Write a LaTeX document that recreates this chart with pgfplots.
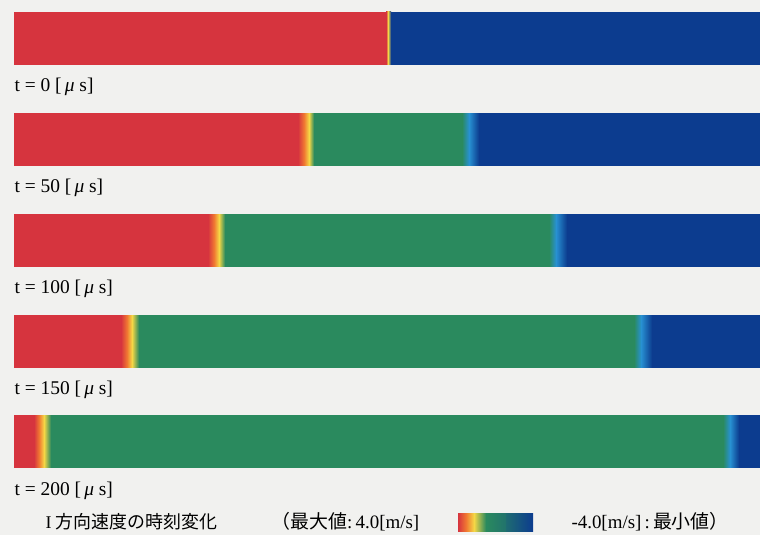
\documentclass[border=0pt]{standalone}
\usepackage{fontspec}
\setmainfont{Liberation Serif}
\newfontfamily\cjk{Noto Sans CJK JP}
\usepackage{pgfplots}
\pgfplotsset{compat=1.18}
\definecolor{bgc}{RGB}{241,241,239}
\definecolor{vred}{RGB}{214,52,62}
\definecolor{vorange}{RGB}{240,120,50}
\definecolor{vyellow}{RGB}{245,215,70}
\definecolor{vgreen}{RGB}{42,138,94}
\definecolor{vlblue}{RGB}{40,145,210}
\definecolor{vblue}{RGB}{12,60,143}
\newcommand\rect[5]{\addplot[draw=none,fill=#5] coordinates {(#1,#3) (#2,#3) (#2,#4) (#1,#4)} -- cycle;}
\newcommand\grad[6]{\addplot[draw=none,left color=#5,right color=#6] coordinates {(#1,#3) (#2,#3) (#2,#4) (#1,#4)} -- cycle;}
\newcommand\tlab[1]{t = #1 [\,\textit{μ} s]}
\begin{document}
\begin{tikzpicture}
\begin{axis}[
  width=760bp, height=535bp, scale only axis,
  xmin=0, xmax=760, ymin=0, ymax=535, y dir=reverse,
  axis lines=none, clip=false,
  axis background/.style={fill=bgc},
]
% bar 1, t = 0
\rect{14}{386}{12}{65}{vred}
\grad{386}{388}{12}{64.2}{vred}{vyellow}
\grad{388}{391}{12}{64.2}{vyellow}{vblue}
\rect{391}{760}{12}{65}{vblue}
% bar 2, t = 50
\rect{14}{298}{113}{166}{vred}
\grad{298}{304}{113}{165.2}{vred}{vorange}
\grad{304}{309}{113}{165.2}{vorange}{vyellow}
\grad{309}{314}{113}{165.2}{vyellow}{vgreen}
\rect{314}{462}{113}{166}{vgreen}
\grad{462}{469}{113}{165.2}{vgreen}{vlblue}
\grad{469}{479}{113}{165.2}{vlblue}{vblue}
\rect{479}{760}{113}{166}{vblue}
% bar 3, t = 100
\rect{14}{208}{214}{267}{vred}
\grad{208}{214}{214}{266.2}{vred}{vorange}
\grad{214}{219}{214}{266.2}{vorange}{vyellow}
\grad{219}{225}{214}{266.2}{vyellow}{vgreen}
\rect{225}{549}{214}{267}{vgreen}
\grad{549}{556}{214}{266.2}{vgreen}{vlblue}
\grad{556}{567}{214}{266.2}{vlblue}{vblue}
\rect{567}{760}{214}{267}{vblue}
% bar 4, t = 150
\rect{14}{121}{315}{368}{vred}
\grad{121}{127}{315}{367.2}{vred}{vorange}
\grad{127}{132}{315}{367.2}{vorange}{vyellow}
\grad{132}{139}{315}{367.2}{vyellow}{vgreen}
\rect{139}{634}{315}{368}{vgreen}
\grad{634}{641}{315}{367.2}{vgreen}{vlblue}
\grad{641}{652}{315}{367.2}{vlblue}{vblue}
\rect{652}{760}{315}{368}{vblue}
% bar 5, t = 200
\rect{14}{34}{415}{468}{vred}
\grad{34}{39}{415}{467.2}{vred}{vorange}
\grad{39}{44}{415}{467.2}{vorange}{vyellow}
\grad{44}{51}{415}{467.2}{vyellow}{vgreen}
\rect{51}{723}{415}{468}{vgreen}
\grad{723}{730}{415}{467.2}{vgreen}{vlblue}
\grad{730}{739}{415}{467.2}{vlblue}{vblue}
\rect{739}{760}{415}{468}{vblue}
% colour bar
\grad{458}{466}{513}{531}{vred}{vorange}
\grad{466}{474}{513}{531}{vorange}{vyellow}
\grad{474}{486}{513}{531}{vyellow}{vgreen}
\grad{486}{506}{513}{531}{vgreen}{vgreen!70!vblue}
\grad{506}{533}{513}{531}{vgreen!60!vblue}{vblue}
% labels
\node[anchor=west,font=\fontsize{19.5}{22}\selectfont] at (axis cs:11,87) {\tlab{0}};
\node[anchor=west,font=\fontsize{19.5}{22}\selectfont] at (axis cs:11,188) {\tlab{50}};
\node[anchor=west,font=\fontsize{19.5}{22}\selectfont] at (axis cs:11,289) {\tlab{100}};
\node[anchor=west,font=\fontsize{19.5}{22}\selectfont] at (axis cs:11,390) {\tlab{150}};
\node[anchor=west,font=\fontsize{19.5}{22}\selectfont] at (axis cs:11,491) {\tlab{200}};
\node[anchor=west,font=\fontsize{18}{20}\selectfont] at (axis cs:42,522) {I {\cjk 方向速度の時刻変化}};
\node[anchor=west,font=\fontsize{19}{20}\selectfont] at (axis cs:268,522) {{\cjk （最大値}:\,4.0[m/s]};
\node[anchor=west,font=\fontsize{19}{20}\selectfont] at (axis cs:568,522) {-4.0[m/s]\,:\,{\cjk 最小値）}};
\end{axis}
\end{tikzpicture}
\end{document}
